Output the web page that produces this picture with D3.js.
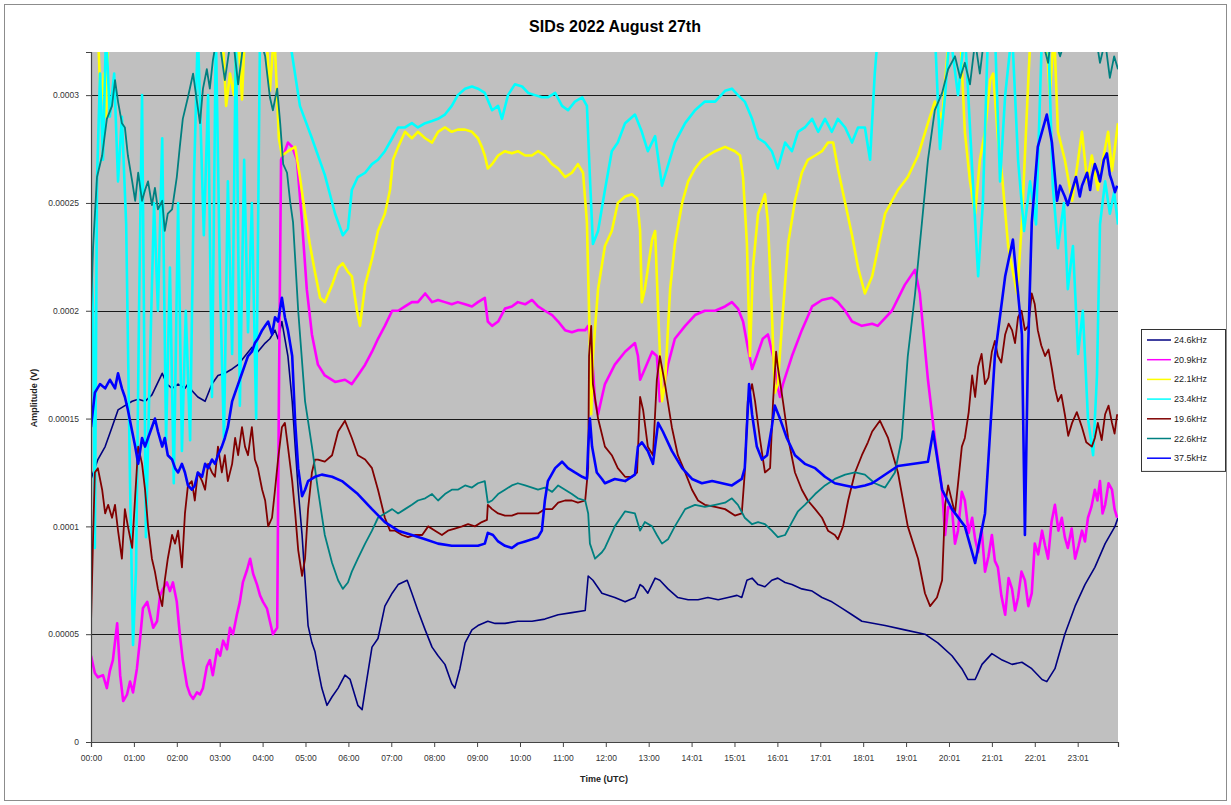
<!DOCTYPE html>
<html>
<head>
<meta charset="utf-8">
<title>SIDs 2022 August 27th</title>
<script src="https://cdn.jsdelivr.net/npm/d3@7"></script>
<style>
  html, body { margin: 0; padding: 0; background: #ffffff; }
  svg { display: block; font-family: "Liberation Sans", Arial, sans-serif; }
</style>
</head>
<body>
<svg id="chart" width="1231" height="805"></svg>
<script>
// Amplitudes below are stored in units of 10 µV (1e-5 V); time in hours (UTC).
const UNIT = 1e-5;

const chartTitle = "SIDs 2022 August 27th";
const xTitle = "Time (UTC)";
const yTitle = "Amplitude (V)";

const seriesNames = ["24.6kHz", "20.9kHz", "22.1kHz", "23.4kHz", "19.6kHz", "22.6kHz", "37.5kHz"];

const xTickLabels = ["00:00", "01:00", "02:00", "03:00", "04:00", "05:00", "06:00", "07:00",
  "08:00", "09:00", "10:00", "11:00", "12:00", "13:00", "14:01", "15:01", "16:01", "17:01",
  "18:01", "19:01", "20:01", "21:01", "22:01", "23:01"];
const yTickValues = [0, 0.00005, 0.0001, 0.00015, 0.0002, 0.00025, 0.0003];
const yTickLabels = ["0", "0.00005", "0.0001", "0.00015", "0.0002", "0.00025", "0.0003"];
const yMax = 0.00032;
const tMax = 23.94;

// 24.6kHz
const s246 = [[0,12.2],[0.16,13.1],[0.33,13.7],[0.49,14.6],[0.63,15.4],[0.79,15.6],[0.96,15.8],[1.10,15.9],
  [1.26,15.8],[1.42,16.1],[1.54,16.6],[1.66,17.1],[1.77,16.6],[1.89,16.4],[2.03,16.6],[2.19,16.4],[2.26,16.6],
  [2.35,16.3],[2.49,16.0],[2.66,15.8],[2.82,16.6],[2.96,17.0],[3.12,17.1],[3.29,17.3],[3.43,17.5],[3.59,17.9],
  [3.75,18.3],[3.89,18.1],[4.06,18.5],[4.17,18.7],[4.29,19.1],[4.36,18.7],[4.45,19.5],[4.52,18.7],[4.59,17.9],
  [4.69,15.8],[4.76,13.7],[4.83,11.7],[4.92,9.6],[4.99,7.5],[5.06,5.4],[5.15,4.6],[5.22,4.2],[5.29,3.4],
  [5.38,2.5],[5.50,1.7],[5.62,2.1],[5.76,2.5],[5.92,3.1],[6.04,2.9],[6.22,1.7],[6.32,1.5],[6.43,2.9],[6.55,4.4],
  [6.69,4.8],[6.85,6.3],[7.02,6.9],[7.16,7.3],[7.37,7.5],[7.48,6.9],[7.62,6.1],[7.79,5.2],[7.95,4.4],[8.09,4.0],
  [8.25,3.6],[8.41,2.7],[8.48,2.5],[8.60,3.4],[8.72,4.6],[8.88,5.2],[9.02,5.4],[9.25,5.6],[9.42,5.5],[9.65,5.5],
  [9.95,5.6],[10.28,5.6],[10.58,5.7],[10.89,5.9],[11.21,6.0],[11.52,6.1],[11.59,7.7],[11.70,7.5],[11.91,6.9],
  [12.21,6.7],[12.45,6.5],[12.68,6.7],[12.80,7.3],[12.87,7.2],[12.98,6.9],[13.15,7.6],[13.26,7.5],[13.45,7.1],
  [13.68,6.7],[13.92,6.6],[14.15,6.6],[14.38,6.7],[14.62,6.6],[14.85,6.7],[15.06,6.8],[15.17,6.7],[15.29,7.5],
  [15.41,7.6],[15.55,7.3],[15.71,7.2],[15.87,7.5],[16.01,7.6],[16.18,7.4],[16.34,7.3],[16.57,7.1],[16.81,7.0],
  [17.04,6.7],[17.27,6.5],[17.51,6.2],[17.74,5.9],[17.97,5.6],[18.51,5.4],[18.97,5.2],[19.44,5.0],[19.74,4.6],
  [20.07,4.0],[20.30,3.4],[20.44,2.9],[20.61,2.9],[20.77,3.6],[21.00,4.1],[21.24,3.8],[21.47,3.6],[21.70,3.7],
  [21.93,3.4],[22.17,2.9],[22.28,2.8],[22.47,3.4],[22.70,5.0],[22.94,6.3],[23.17,7.3],[23.40,8.1],[23.64,9.2],
  [23.87,10.0],[23.94,10.4]];

// 20.9kHz
const s209 = [[0,4.0],[0.09,3.2],[0.16,3.0],[0.28,3.1],[0.37,2.5],[0.44,3.3],[0.51,3.8],[0.61,5.5],[0.68,3.1],
  [0.75,1.9],[0.84,2.2],[0.91,2.8],[0.98,2.3],[1.07,3.4],[1.14,4.7],[1.21,6.2],[1.31,6.5],[1.38,5.9],[1.45,5.3],
  [1.54,5.6],[1.61,6.8],[1.68,7.1],[1.77,7.4],[1.84,7.0],[1.91,7.4],[2.00,6.5],[2.07,5.0],[2.14,3.8],[2.24,2.6],
  [2.31,2.2],[2.38,2.0],[2.47,2.3],[2.54,2.2],[2.61,2.5],[2.70,3.5],[2.77,3.8],[2.84,3.1],[2.94,4.3],[3.01,4.0],
  [3.08,4.7],[3.17,4.3],[3.24,5.3],[3.31,5.0],[3.40,5.9],[3.47,6.5],[3.54,7.4],[3.64,8.0],[3.71,8.5],[3.78,7.8],
  [3.87,7.3],[3.94,6.8],[4.01,6.5],[4.10,6.2],[4.17,5.6],[4.24,5.0],[4.34,5.3],[4.38,16.0],[4.43,27.0],
  [4.52,27.4],[4.59,27.8],[4.69,27.6],[4.80,27.0],[4.92,24.1],[5.03,21.0],[5.15,18.9],[5.29,17.5],[5.45,17.0],
  [5.69,16.7],[5.92,16.8],[6.08,16.6],[6.22,17.0],[6.39,17.5],[6.55,18.1],[6.69,18.7],[6.85,19.3],[7.02,20.0],
  [7.16,20.0],[7.32,20.2],[7.48,20.4],[7.62,20.4],[7.79,20.8],[7.95,20.4],[8.09,20.5],[8.25,20.4],[8.41,20.3],
  [8.55,20.4],[8.72,20.3],[8.88,20.2],[9.02,20.4],[9.18,20.6],[9.25,19.5],[9.35,19.3],[9.49,19.5],[9.65,20.1],
  [9.81,20.2],[9.95,20.4],[10.12,20.3],[10.28,20.5],[10.42,20.2],[10.58,20.0],[10.75,19.8],[10.89,19.5],
  [11.05,19.1],[11.21,19.0],[11.35,19.1],[11.52,19.1],[11.59,19.3],[11.68,17.9],[11.75,15.8],[11.82,15.2],
  [11.91,16.0],[11.98,16.6],[12.21,17.5],[12.45,18.1],[12.68,18.5],[12.75,17.9],[12.80,16.8],[12.91,17.3],
  [13.08,18.1],[13.19,17.9],[13.26,15.8],[13.33,16.2],[13.45,17.5],[13.61,18.7],[13.85,19.3],[14.08,19.8],
  [14.31,20.0],[14.55,20.0],[14.78,20.2],[14.94,20.4],[15.08,20.1],[15.20,19.5],[15.31,18.3],[15.41,17.3],
  [15.52,17.9],[15.66,18.7],[15.78,18.9],[15.90,17.9],[15.99,16.6],[16.06,16.0],[16.13,16.6],[16.34,17.9],
  [16.57,19.1],[16.81,20.2],[17.04,20.5],[17.27,20.6],[17.41,20.4],[17.58,20.0],[17.74,19.5],[17.97,19.3],
  [18.21,19.4],[18.34,19.3],[18.67,20.0],[18.97,21.2],[19.21,21.9],[19.32,20.8],[19.51,16.8],[19.67,14.1],
  [19.84,11.7],[19.91,9.6],[19.98,10.9],[20.07,10.8],[20.14,9.2],[20.21,9.8],[20.30,11.6],[20.37,11.2],
  [20.46,9.7],[20.54,10.4],[20.61,9.4],[20.68,8.8],[20.76,9.9],[20.84,7.9],[20.92,8.6],[21.00,9.6],[21.07,8.4],
  [21.14,8.1],[21.22,6.8],[21.31,5.9],[21.39,7.6],[21.47,7.1],[21.54,6.1],[21.61,6.7],[21.69,7.9],[21.77,7.5],
  [21.85,6.3],[21.93,6.9],[22.00,9.2],[22.08,8.7],[22.17,9.8],[22.24,9.1],[22.31,8.5],[22.39,10.2],[22.47,11.0],
  [22.55,9.8],[22.63,10.4],[22.70,9.5],[22.77,9.0],[22.86,9.9],[22.94,8.5],[23.02,9.1],[23.10,9.8],[23.17,9.3],
  [23.24,10.4],[23.32,10.9],[23.40,11.7],[23.46,11.2],[23.52,12.1],[23.58,10.6],[23.64,11.0],[23.72,12.0],
  [23.80,11.7],[23.86,10.8],[23.92,10.4]];

// 22.1kHz
const s221 = [[0,34],[0.16,33],[0.23,29.5],[0.30,31],[0.35,29],[0.42,34],[1.38,34],[2.54,34],[3.05,33.5],
  [3.15,29.5],[3.24,31],[3.33,30],[3.43,33],[3.52,29.8],[3.61,34],[4.08,33],[4.17,30.2],[4.27,33],[4.38,28.0],
  [4.45,27.2],[4.59,27.4],[4.76,27.6],[4.87,26.2],[4.99,24.5],[5.10,23.1],[5.22,21.8],[5.34,20.6],[5.45,20.4],
  [5.62,21.2],[5.76,22.0],[5.87,22.2],[5.99,21.8],[6.08,21.6],[6.20,20.0],[6.27,19.3],[6.39,21.2],[6.55,22.4],
  [6.69,23.7],[6.85,24.5],[6.97,25.6],[7.04,27.0],[7.16,27.6],[7.32,28.3],[7.48,28.0],[7.62,28.3],[7.79,28.0],
  [7.95,27.8],[8.09,28.3],[8.25,28.5],[8.41,28.3],[8.55,28.4],[8.72,28.4],[8.88,28.3],[9.02,28.0],[9.11,27.6],
  [9.18,27.2],[9.25,26.6],[9.35,26.8],[9.49,27.2],[9.65,27.4],[9.81,27.3],[9.95,27.4],[10.12,27.2],[10.28,27.2],
  [10.42,27.4],[10.58,27.2],[10.75,26.8],[10.89,26.6],[11.05,26.2],[11.21,26.4],[11.35,26.8],[11.47,26.4],
  [11.56,24.1],[11.61,20.0],[11.66,15.2],[11.70,17.9],[11.82,21.0],[11.98,23.0],[12.14,23.7],[12.28,25.0],
  [12.45,25.3],[12.61,25.4],[12.73,25.2],[12.80,23.7],[12.84,20.4],[12.91,21.0],[13.08,23.3],[13.15,23.7],
  [13.22,20.0],[13.31,15.8],[13.38,16.6],[13.50,21.0],[13.61,23.1],[13.78,25.0],[13.92,26.0],[14.08,26.6],
  [14.24,27.0],[14.38,27.2],[14.55,27.4],[14.78,27.6],[15.01,27.4],[15.13,27.2],[15.20,26.2],[15.29,23.1],
  [15.36,17.9],[15.43,22.0],[15.55,24.5],[15.71,25.4],[15.78,24.1],[15.87,20.0],[15.94,16.2],[16.01,16.6],
  [16.13,20.0],[16.25,23.1],[16.41,25.1],[16.57,26.4],[16.71,27.0],[16.88,27.2],[17.04,27.4],[17.18,27.8],
  [17.30,27.8],[17.41,26.6],[17.58,25.0],[17.74,23.5],[17.88,22.0],[18.04,20.8],[18.21,21.6],[18.51,24.5],
  [18.81,25.6],[19.04,26.2],[19.28,27.2],[19.51,28.7],[19.67,29.7],[19.84,28.9],[19.95,31.6],[20.07,34],
  [20.26,33],[20.37,28.3],[20.49,26.0],[20.61,24.5],[20.72,27.0],[20.84,28.3],[20.96,30.7],[21.03,31.0],
  [21.14,28.0],[21.24,26.2],[21.38,23.0],[21.47,22.0],[21.59,20.8],[21.70,24.1],[21.84,30.3],[21.93,34],
  [22.12,34],[22.26,33],[22.35,30.0],[22.45,33],[22.54,28.3],[22.70,27.0],[22.87,25.1],[23.01,27.0],[23.10,28.3],
  [23.22,26.0],[23.33,27.2],[23.47,25.6],[23.59,27.0],[23.71,28.3],[23.80,26.5],[23.94,28.7]];

// 23.4kHz
const s234 = [[0,23],[0.05,20],[0.09,9],[0.14,26],[0.21,31],[0.28,27],[0.35,33],[0.44,29],[0.54,31],[0.63,26],
  [0.72,29],[0.82,24],[0.91,12],[0.98,4.5],[1.05,8],[1.12,20],[1.19,30],[1.28,9.5],[1.38,18],[1.47,25],[1.56,20],
  [1.66,28],[1.75,14],[1.84,22],[1.93,12],[2.03,25],[2.12,13.5],[2.21,20],[2.31,14],[2.40,26],[2.49,33],
  [2.63,23.5],[2.73,30],[2.82,16],[2.91,33],[3.01,21],[3.10,14],[3.19,26],[3.29,18],[3.38,33],[3.47,15.6],
  [3.57,27],[3.66,19],[3.75,25],[3.85,15],[3.94,33],[4.06,34],[4.29,33],[4.52,33],[4.64,32.5],[4.87,29.5],
  [5.15,28.0],[5.45,26.3],[5.69,24.5],[5.87,23.5],[5.99,23.8],[6.08,25.6],[6.22,26.2],[6.39,26.4],[6.55,26.8],
  [6.69,27.0],[6.85,27.4],[7.02,28.0],[7.16,28.5],[7.32,28.5],[7.48,28.7],[7.62,28.5],[7.79,28.7],[7.95,28.8],
  [8.09,28.9],[8.25,29.1],[8.41,29.5],[8.55,30.0],[8.72,30.3],[8.88,30.4],[9.02,30.3],[9.18,30.1],[9.35,29.3],
  [9.49,29.5],[9.58,28.9],[9.72,30.0],[9.88,30.5],[10.05,30.4],[10.19,30.1],[10.35,30.0],[10.51,29.9],
  [10.65,29.9],[10.82,30.1],[10.98,29.5],[11.12,29.3],[11.28,29.7],[11.45,29.9],[11.56,29.5],[11.63,26.2],
  [11.70,23.1],[11.82,23.7],[11.98,25.6],[12.14,27.4],[12.28,27.8],[12.45,28.7],[12.68,29.1],[12.84,28.3],
  [12.98,27.4],[13.15,28.1],[13.31,25.8],[13.43,26.6],[13.61,27.8],[13.85,28.7],[14.08,29.3],[14.31,29.7],
  [14.55,29.7],[14.78,30.2],[14.94,30.3],[15.08,30.0],[15.24,29.7],[15.41,28.9],[15.55,28.0],[15.71,27.8],
  [15.87,27.4],[16.01,26.6],[16.18,27.8],[16.34,27.4],[16.48,28.3],[16.64,28.5],[16.81,28.9],[16.95,28.3],
  [17.11,28.9],[17.27,28.3],[17.41,28.9],[17.58,28.5],[17.74,27.8],[17.88,28.5],[18.04,28.5],[18.16,27.0],
  [18.27,31.0],[18.39,34],[18.90,34],[19.44,34],[19.67,33],[19.79,27.5],[19.91,30.0],[20.02,33],[20.21,30],
  [20.37,33],[20.54,26.6],[20.68,21.6],[20.79,25],[20.91,33],[21.07,33],[21.19,26],[21.31,30],[21.47,33],
  [21.61,27],[21.75,23.7],[21.89,26],[22.03,24],[22.17,33],[22.31,33],[22.42,25.8],[22.54,22.9],[22.68,25],
  [22.77,21],[22.89,23],[23.01,18],[23.12,20],[23.24,15],[23.36,13.3],[23.45,17],[23.52,24],[23.64,26],
  [23.75,24.5],[23.85,25.5],[23.94,24]];

// 19.6kHz
const s196 = [[0,5.5],[0.05,9.6],[0.09,12.5],[0.16,12.7],[0.26,11.7],[0.33,10.6],[0.40,11.0],[0.49,10.4],
  [0.56,11.0],[0.63,9.8],[0.72,8.5],[0.79,10.8],[0.86,10.0],[0.96,9.0],[1.03,11.4],[1.10,13.7],[1.19,12.9],
  [1.26,11.7],[1.33,10.0],[1.42,8.5],[1.49,7.9],[1.56,7.1],[1.66,6.3],[1.72,7.5],[1.79,8.5],[1.89,9.6],
  [1.96,9.2],[2.03,9.8],[2.12,8.1],[2.19,10.6],[2.26,11.9],[2.35,12.1],[2.42,11.2],[2.49,12.5],[2.59,12.1],
  [2.66,11.7],[2.73,12.9],[2.82,12.5],[2.89,12.3],[2.96,13.7],[3.05,12.5],[3.12,13.3],[3.19,12.1],[3.29,12.9],
  [3.36,14.1],[3.43,13.3],[3.52,14.6],[3.59,13.7],[3.66,13.3],[3.75,14.6],[3.82,13.1],[3.89,12.7],[3.99,11.7],
  [4.06,11.2],[4.13,10.0],[4.22,10.4],[4.29,11.7],[4.36,13.1],[4.45,14.6],[4.52,14.8],[4.59,13.7],[4.69,12.1],
  [4.76,10.6],[4.83,8.9],[4.92,7.7],[4.99,8.5],[5.06,10.8],[5.15,12.5],[5.22,13.1],[5.29,13.1],[5.45,13.0],
  [5.62,13.3],[5.76,14.4],[5.92,14.9],[6.08,14.1],[6.22,13.3],[6.39,13.1],[6.55,12.7],[6.69,11.7],[6.85,10.4],
  [6.97,9.8],[7.09,9.8],[7.25,9.6],[7.39,9.5],[7.55,9.6],[7.72,9.6],[7.86,10.0],[8.02,9.8],[8.18,9.6],[8.32,9.8],
  [8.48,9.9],[8.65,10.0],[8.79,10.1],[8.95,10.0],[9.11,10.2],[9.23,10.3],[9.25,11.0],[9.35,10.8],[9.49,10.6],
  [9.65,10.5],[9.81,10.5],[9.95,10.6],[10.12,10.6],[10.28,10.6],[10.42,10.6],[10.58,10.8],[10.75,10.8],
  [10.89,11.1],[11.05,11.2],[11.21,11.2],[11.35,11.1],[11.52,11.2],[11.59,12.7],[11.61,17.9],[11.66,19.3],
  [11.70,16.6],[11.82,15.0],[11.98,13.7],[12.14,13.3],[12.28,12.7],[12.45,12.3],[12.61,12.3],[12.73,12.5],
  [12.80,16.0],[12.87,15.4],[12.98,13.7],[13.10,13.3],[13.19,16.8],[13.26,17.9],[13.38,16.6],[13.54,14.6],
  [13.68,13.3],[13.85,12.5],[14.01,11.7],[14.15,11.2],[14.31,11.0],[14.55,10.9],[14.78,10.8],[15.01,10.5],
  [15.17,10.6],[15.24,12.5],[15.31,15.8],[15.41,16.6],[15.48,15.8],[15.59,14.1],[15.71,12.5],[15.83,12.7],
  [15.90,15.8],[15.97,18.1],[16.01,17.4],[16.13,15.8],[16.25,14.1],[16.41,12.5],[16.57,11.7],[16.71,11.2],
  [16.88,10.8],[17.04,10.4],[17.18,9.8],[17.34,9.6],[17.41,9.4],[17.53,10.0],[17.65,11.2],[17.81,12.5],
  [17.97,13.3],[18.11,13.9],[18.21,14.4],[18.39,14.9],[18.58,14.1],[18.81,12.5],[19.04,10.0],[19.28,8.5],
  [19.44,6.9],[19.56,6.3],[19.72,6.7],[19.84,7.5],[19.91,11.0],[19.98,11.9],[20.14,10.6],[20.30,13.7],
  [20.37,14.1],[20.46,15.3],[20.54,17.0],[20.61,16.0],[20.68,17.4],[20.76,18.0],[20.84,16.6],[20.92,16.9],
  [21.00,18.1],[21.07,18.6],[21.14,17.9],[21.22,17.6],[21.31,18.9],[21.39,19.4],[21.47,19.1],[21.54,18.5],
  [21.61,19.7],[21.69,20.0],[21.77,19.1],[21.85,19.3],[21.93,20.8],[22.00,20.3],[22.07,19.1],[22.15,18.4],
  [22.24,17.9],[22.32,18.2],[22.40,17.3],[22.47,16.4],[22.54,15.8],[22.62,16.1],[22.70,15.2],[22.78,14.2],
  [22.87,14.8],[22.98,15.3],[23.10,14.6],[23.20,13.9],[23.33,13.7],[23.40,14.1],[23.47,14.8],[23.56,14.0],
  [23.64,15.2],[23.72,15.6],[23.80,14.8],[23.86,14.3],[23.92,15.2]];

// 22.6kHz
const s226 = [[0,20.0],[0.05,23.0],[0.14,26.2],[0.26,27.2],[0.37,28.9],[0.49,29.5],[0.56,30.7],[0.63,29.7],
  [0.72,28.7],[0.79,28.5],[0.86,27.2],[0.96,26.0],[1.03,25.1],[1.10,26.4],[1.19,25.1],[1.26,25.6],[1.33,26.0],
  [1.42,24.9],[1.49,25.7],[1.56,24.7],[1.66,25.1],[1.72,23.7],[1.79,24.5],[1.89,24.7],[2.00,26.2],[2.07,27.6],
  [2.14,28.9],[2.26,29.9],[2.38,31.0],[2.47,29.7],[2.54,28.7],[2.61,30.3],[2.70,31.2],[2.77,30.3],[2.84,31.6],
  [2.96,33],[3.12,30.7],[3.29,33],[3.43,30.5],[3.59,33],[3.82,33.5],[4.06,31.8],[4.17,29.9],[4.24,29.3],
  [4.34,30.3],[4.41,28.7],[4.48,26.8],[4.57,26.4],[4.64,25.1],[4.71,24.1],[4.83,20.0],[4.99,15.8],[5.15,13.7],
  [5.29,11.7],[5.45,9.6],[5.62,8.3],[5.76,7.5],[5.87,7.1],[5.99,7.4],[6.08,7.9],[6.22,8.5],[6.39,9.2],[6.55,9.8],
  [6.69,10.4],[6.85,10.6],[7.02,10.8],[7.16,10.6],[7.32,10.8],[7.48,11.0],[7.62,11.2],[7.79,11.3],[7.95,11.5],
  [8.09,11.2],[8.25,11.5],[8.41,11.7],[8.55,11.7],[8.72,11.9],[8.88,11.8],[9.02,12.0],[9.18,12.1],[9.25,11.1],
  [9.35,11.2],[9.49,11.5],[9.65,11.7],[9.81,11.9],[9.95,12.0],[10.12,11.9],[10.28,11.8],[10.42,11.7],
  [10.58,11.8],[10.75,11.6],[10.89,11.9],[11.05,11.7],[11.21,11.5],[11.35,11.3],[11.52,11.2],[11.59,10.6],
  [11.63,9.2],[11.75,8.5],[11.91,8.8],[11.98,9.0],[12.21,10.0],[12.45,10.7],[12.68,10.6],[12.80,9.8],
  [12.91,10.2],[13.08,10.0],[13.19,9.6],[13.31,9.2],[13.45,9.4],[13.61,10.0],[13.85,10.8],[14.08,11.0],
  [14.31,10.9],[14.55,11.0],[14.78,11.1],[14.94,11.3],[15.08,11.0],[15.24,10.4],[15.41,10.1],[15.55,10.2],
  [15.71,10.1],[15.87,9.8],[16.01,9.5],[16.18,9.6],[16.34,10.2],[16.48,10.7],[16.64,11.0],[16.88,11.5],
  [17.11,11.9],[17.34,12.2],[17.58,12.4],[17.81,12.5],[18.04,12.4],[18.27,12.0],[18.51,11.8],[18.74,12.5],
  [18.90,14.1],[19.04,17.9],[19.21,20.8],[19.37,24.1],[19.51,27.0],[19.67,29.3],[19.84,30.1],[19.98,31.2],
  [20.14,31.8],[20.26,30.8],[20.37,31.5],[20.49,30.5],[20.61,32.5],[20.72,31.0],[20.84,33],[21.07,33.5],
  [21.31,32.5],[21.47,33],[21.77,33.5],[22.12,33],[22.31,31.5],[22.40,33],[22.59,31.8],[22.77,33],[23.17,33],
  [23.40,33],[23.52,31.5],[23.64,32.5],[23.75,30.8],[23.85,31.8],[23.94,31.2]];

// 37.5kHz
const s375 = [[0,14.6],[0.09,16.2],[0.21,16.6],[0.33,16.4],[0.44,16.8],[0.56,16.4],[0.63,17.1],[0.72,16.4],
  [0.79,16.0],[0.86,15.4],[0.96,14.4],[1.03,13.7],[1.10,12.9],[1.19,14.1],[1.26,13.7],[1.33,14.1],[1.42,14.6],
  [1.49,15.0],[1.56,14.4],[1.66,13.7],[1.72,14.1],[1.79,13.3],[1.89,13.1],[1.96,12.7],[2.03,12.5],[2.12,12.9],
  [2.19,12.5],[2.26,11.9],[2.35,11.7],[2.42,11.9],[2.49,12.5],[2.59,12.3],[2.66,12.9],[2.73,12.7],[2.82,13.1],
  [2.89,12.9],[2.96,13.3],[3.05,13.7],[3.12,14.1],[3.19,14.6],[3.29,15.8],[3.36,16.2],[3.43,16.6],[3.52,17.1],
  [3.59,17.5],[3.66,17.9],[3.75,18.1],[3.82,18.5],[3.89,18.7],[3.99,19.1],[4.06,19.3],[4.13,19.5],[4.22,18.9],
  [4.29,19.7],[4.36,19.5],[4.45,20.6],[4.52,19.7],[4.59,19.1],[4.69,17.9],[4.76,14.8],[4.83,12.7],[4.92,11.4],
  [4.99,11.7],[5.06,12.1],[5.22,12.3],[5.38,12.4],[5.62,12.3],[5.85,12.1],[6.22,11.5],[6.55,10.8],[6.85,10.2],
  [7.16,9.8],[7.48,9.6],[7.79,9.4],[8.09,9.2],[8.41,9.1],[8.72,9.1],[9.02,9.1],[9.18,9.2],[9.25,9.7],[9.37,9.6],
  [9.49,9.3],[9.65,9.1],[9.81,9.0],[9.95,9.2],[10.12,9.3],[10.28,9.4],[10.42,9.5],[10.51,9.8],[10.58,11.2],
  [10.65,12.1],[10.82,12.7],[10.98,13.0],[11.12,12.7],[11.28,12.5],[11.45,12.3],[11.56,12.2],[11.59,13.7],
  [11.63,15.0],[11.68,13.7],[11.79,12.5],[11.91,12.2],[11.98,12.0],[12.21,12.2],[12.45,12.1],[12.68,12.4],
  [12.75,13.7],[12.84,13.9],[12.98,13.5],[13.10,12.9],[13.22,14.8],[13.33,14.4],[13.54,13.5],[13.78,12.7],
  [14.01,12.2],[14.24,12.0],[14.48,12.1],[14.71,12.0],[14.94,11.9],[15.17,12.2],[15.24,12.7],[15.34,16.6],
  [15.41,15.2],[15.52,13.7],[15.64,13.1],[15.76,13.3],[15.87,14.6],[15.94,15.6],[16.06,15.0],[16.22,14.1],
  [16.41,13.3],[16.64,12.9],[16.88,12.7],[17.11,12.3],[17.34,12.0],[17.58,11.9],[17.81,11.8],[18.04,11.9],
  [18.21,12.0],[18.81,12.8],[19.51,13.0],[19.63,14.4],[19.84,11.7],[20.07,10.8],[20.37,10.0],[20.61,8.3],
  [20.84,10.6],[21.07,17.9],[21.31,21.6],[21.49,23.3],[21.61,20.8],[21.70,18.9],[21.77,9.6],[21.84,17.9],
  [21.93,24.1],[22.07,27.6],[22.28,29.1],[22.40,27.8],[22.52,25.1],[22.59,25.8],[22.70,25.3],[22.77,24.9],
  [22.87,25.6],[22.96,26.2],[23.05,25.3],[23.10,25.8],[23.22,26.4],[23.29,25.6],[23.33,26.2],[23.40,26.8],
  [23.47,26.4],[23.52,26.0],[23.61,27.0],[23.68,27.3],[23.75,26.3],[23.80,26.0],[23.87,25.5],[23.92,25.8]];

const seriesData = [s246, s209, s221, s234, s196, s226, s375];

// Styling (Excel-like palette)
const seriesColors = ["#000080", "#FF00FF", "#FFFF00", "#00FFFF", "#800000", "#008080", "#0000FF"];
const seriesWidths = [1.6, 2.6, 2.6, 2.6, 1.8, 1.8, 2.6];

const W = 1231, H = 805;
const plot = { left: 91, top: 52, right: 1118, bottom: 742 };

const svg = d3.select("#chart");

// chart area
svg.append("rect").attr("x", 0).attr("y", 0).attr("width", W).attr("height", H).attr("fill", "#ffffff");
svg.append("rect").attr("x", 4.5).attr("y", 4.5).attr("width", W - 9).attr("height", H - 9)
  .attr("fill", "none").attr("stroke", "#8c8c8c").attr("stroke-width", 1);

const x = d3.scaleLinear().domain([0, tMax]).range([plot.left, plot.right]);
const y = d3.scaleLinear().domain([0, yMax]).range([plot.bottom, plot.top]);

// plot area
svg.append("rect")
  .attr("x", plot.left).attr("y", plot.top)
  .attr("width", plot.right - plot.left).attr("height", plot.bottom - plot.top)
  .attr("fill", "#C0C0C0");

// horizontal gridlines
svg.append("g").selectAll("line").data(yTickValues.filter(v => v > 0)).join("line")
  .attr("x1", plot.left).attr("x2", plot.right)
  .attr("y1", d => Math.round(y(d)) + 0.5).attr("y2", d => Math.round(y(d)) + 0.5)
  .attr("stroke", "#1a1a1a").attr("stroke-width", 1);

// series
svg.append("defs").append("clipPath").attr("id", "plot-clip")
  .append("rect").attr("x", plot.left).attr("y", plot.top)
  .attr("width", plot.right - plot.left).attr("height", plot.bottom - plot.top);

const line = d3.line().x(d => x(d[0])).y(d => y(d[1] * UNIT));

const gLines = svg.append("g").attr("clip-path", "url(#plot-clip)");
seriesData.forEach((data, i) => {
  gLines.append("path")
    .datum(data)
    .attr("d", line)
    .attr("fill", "none")
    .attr("stroke", seriesColors[i])
    .attr("stroke-width", seriesWidths[i])
    .attr("stroke-linejoin", "round");
});

// axes
const yAxis = d3.axisLeft(y).tickValues(yTickValues)
  .tickFormat((d, i) => yTickLabels[i]).tickSize(5).tickPadding(7);
const gy = svg.append("g").attr("transform", `translate(${plot.left},0)`).call(yAxis);

const xAxis = d3.axisBottom(x).tickValues(d3.range(xTickLabels.length))
  .tickFormat((d, i) => xTickLabels[i]).tickSize(5).tickPadding(8);
const gx = svg.append("g").attr("transform", `translate(0,${plot.bottom})`).call(xAxis);

[gx, gy].forEach(g => {
  g.select(".domain").attr("stroke", "#444").attr("stroke-width", 1.2);
  g.selectAll(".tick line").attr("stroke", "#444");
  g.selectAll(".tick text").attr("fill", "#333").attr("font-size", 8.5)
    .attr("font-family", '"Liberation Sans", Arial, sans-serif');
});

// titles
svg.append("text").attr("x", 615).attr("y", 32).attr("text-anchor", "middle")
  .attr("font-size", 16).attr("font-weight", "bold").attr("fill", "#000")
  .text(chartTitle);

svg.append("text").attr("x", 604).attr("y", 782).attr("text-anchor", "middle")
  .attr("font-size", 9).attr("font-weight", "bold").attr("fill", "#222")
  .text(xTitle);

svg.append("text").attr("transform", "translate(37,398) rotate(-90)").attr("text-anchor", "middle")
  .attr("font-size", 9).attr("font-weight", "bold").attr("fill", "#222")
  .text(yTitle);

// legend
const legend = { x: 1141, y: 329, w: 84, rowH: 19.7 };
const lg = svg.append("g");
lg.append("rect").attr("x", legend.x + 0.5).attr("y", legend.y + 0.5)
  .attr("width", legend.w).attr("height", legend.rowH * seriesNames.length + 4)
  .attr("fill", "#ffffff").attr("stroke", "#333").attr("stroke-width", 1);
seriesNames.forEach((name, i) => {
  const cy = legend.y + 11 + i * legend.rowH;
  lg.append("line").attr("x1", legend.x + 6).attr("x2", legend.x + 30)
    .attr("y1", cy).attr("y2", cy)
    .attr("stroke", seriesColors[i]).attr("stroke-width", 1.5);
  lg.append("text").attr("x", legend.x + 33).attr("y", cy + 3)
    .attr("font-size", 9).attr("fill", "#222").text(name);
});
</script>
</body>
</html>
